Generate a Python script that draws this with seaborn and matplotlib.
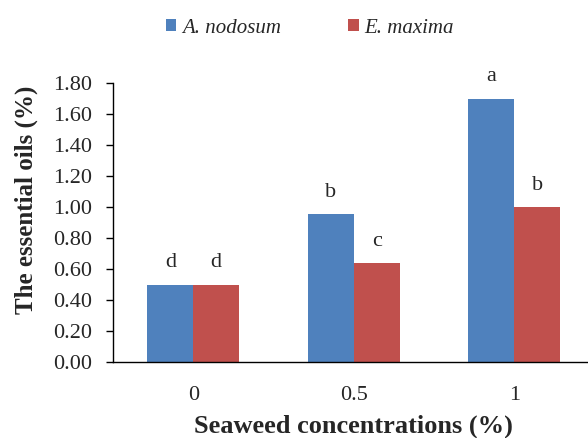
import matplotlib
matplotlib.use("Agg")
import matplotlib.pyplot as plt
import seaborn as sns
import pandas as pd

concentrations = ["0", "0.5", "1"]
species = ["A. nodosum", "E. maxima"]
a_nodosum = [0.50, 0.955, 1.70]
e_maxima = [0.50, 0.64, 1.00]
letters_a = ["d", "b", "a"]
letters_e = ["d", "c", "b"]

df = pd.DataFrame({
    "conc": concentrations * 2,
    "species": [species[0]] * 3 + [species[1]] * 3,
    "value": a_nodosum + e_maxima,
})

sns.set_theme(style="white")
plt.rcParams["font.family"] = ["Liberation Serif", "DejaVu Serif"]

fig = plt.figure(figsize=(5.88, 4.38), dpi=100)
ax = fig.add_axes([113 / 588, 1 - 362 / 438, 481.5 / 588, (362 - 83) / 438])

sns.barplot(data=df, x="conc", y="value", hue="species", order=concentrations,
            hue_order=species, palette=["#4F81BD", "#C0504D"], width=0.573,
            saturation=1, linewidth=0, ax=ax, legend=True)

ax.set_xlim(-0.5, 2.5)
ax.set_ylim(0, 1.80)
ax.set_yticks([i * 0.2 for i in range(10)])
ax.set_yticklabels([f"{i * 0.2:.2f}" for i in range(10)], fontsize=16)
ax.tick_params(axis="x", length=0, labelsize=16, pad=17)
ax.tick_params(axis="y", length=5, width=1, direction="out", color="black", pad=10, left=True)
for s in ["top", "right"]:
    ax.spines[s].set_visible(False)
for s in ["left", "bottom"]:
    ax.spines[s].set_color("black")
    ax.spines[s].set_linewidth(1)

ax.set_xlabel("Seaweed concentrations (%)", fontsize=19, fontweight="bold", labelpad=7)
ax.set_ylabel("The essential oils (%)", fontsize=18, fontweight="bold")
ax.yaxis.set_label_coords(-0.156, 0.58)

# letters on bars
bars = [p for p in ax.patches if p.get_height() > 0]
labels = letters_a + letters_e
for p, lab in zip(bars, labels):
    ax.text(p.get_x() + p.get_width() / 2, p.get_height() + 0.11, lab,
            ha="center", va="baseline", fontsize=16)

leg = ax.legend(loc="upper left", bbox_to_anchor=(147 / 588, 1.0),
                bbox_transform=fig.transFigure, ncol=2, frameon=False,
                handlelength=0.5, handleheight=0.5, handletextpad=0.3,
                columnspacing=3.2, prop={"style": "italic", "size": 15})

fig.savefig("out.png", dpi=100)
